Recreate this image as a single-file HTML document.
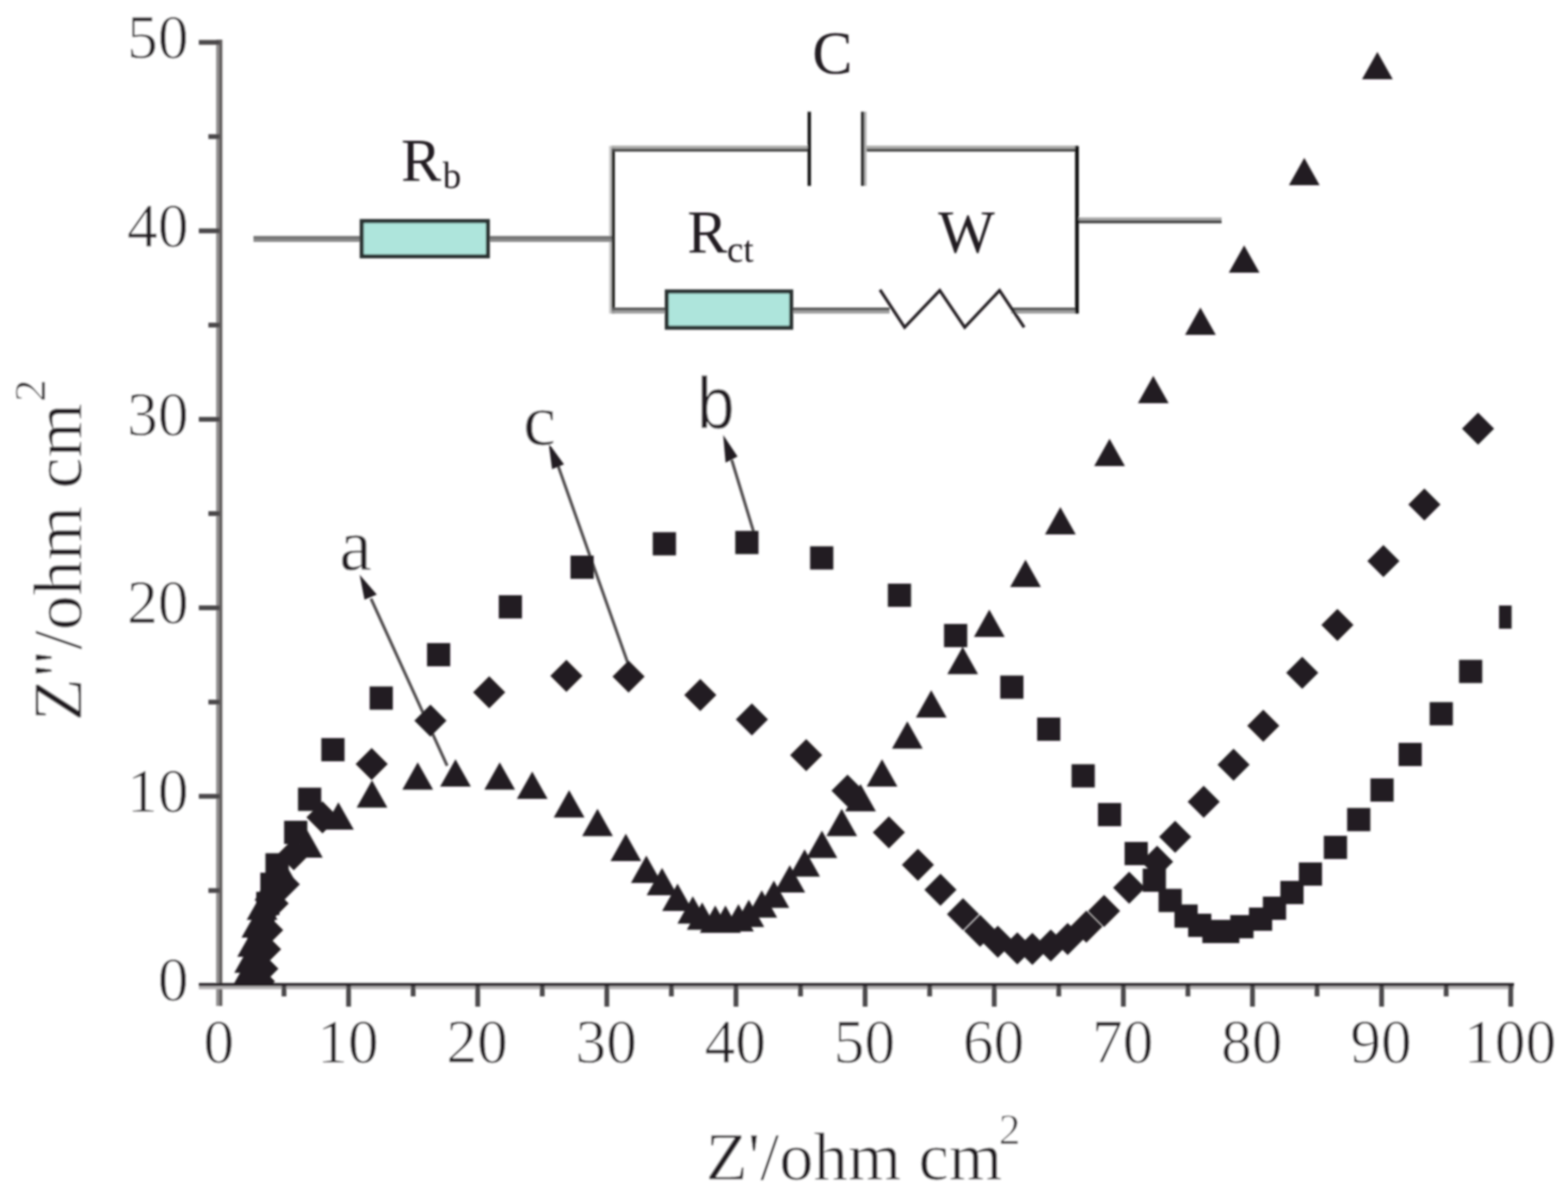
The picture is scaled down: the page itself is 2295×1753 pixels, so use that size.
<!DOCTYPE html>
<html lang="en">
<head>
<meta charset="utf-8">
<title>Nyquist plot</title>
<style>
html,body{margin:0;padding:0;background:#fff;overflow:hidden;}
svg{display:block;}
text{font-family:"Liberation Serif",serif;fill:#231f20;stroke:#fff;stroke-width:1px;stroke-linejoin:round;}
.sans{font-family:"Liberation Sans",sans-serif;}
.hv text{stroke:none;}
</style>
</head>
<body>
<svg width="2295" height="1753" viewBox="0 0 2295 1753">
<defs>
<clipPath id="plot"><rect x="0" y="0" width="2212.5" height="1441"/></clipPath>
<filter id="soft" x="-5%" y="-5%" width="110%" height="110%"><feGaussianBlur stdDeviation="1.4"/></filter>
</defs>
<rect width="2295" height="1753" fill="#fff"/>
<g filter="url(#soft)">

<g id="axes">
<rect x="316.4" y="58" width="4.5" height="1414" fill="#8e8b8c"/>
<rect x="320.9" y="58" width="4.5" height="1414" fill="#5e5b5c"/>
<rect x="291" y="1438.5" width="1925" height="4.5" fill="#231f20"/>
<rect x="291" y="1443" width="1925" height="4.5" fill="#b5b2b3"/>
<rect x="305" y="1299.6" width="16" height="7" fill="#4a4748"/>
<rect x="291" y="1161.7" width="30" height="7" fill="#4a4748"/>
<rect x="305" y="1023.8" width="16" height="7" fill="#4a4748"/>
<rect x="291" y="885.9" width="30" height="7" fill="#4a4748"/>
<rect x="305" y="748.0" width="16" height="7" fill="#4a4748"/>
<rect x="291" y="610.1" width="30" height="7" fill="#4a4748"/>
<rect x="305" y="472.2" width="16" height="7" fill="#4a4748"/>
<rect x="291" y="334.3" width="30" height="7" fill="#4a4748"/>
<rect x="305" y="196.4" width="16" height="7" fill="#4a4748"/>
<rect x="291" y="58.5" width="30" height="7" fill="#4a4748"/>
<rect x="412.2" y="1443" width="7" height="15" fill="#4a4748"/>
<rect x="506.7" y="1443" width="7" height="30" fill="#4a4748"/>
<rect x="601.2" y="1443" width="7" height="15" fill="#4a4748"/>
<rect x="695.7" y="1443" width="7" height="30" fill="#4a4748"/>
<rect x="790.2" y="1443" width="7" height="15" fill="#4a4748"/>
<rect x="884.7" y="1443" width="7" height="30" fill="#4a4748"/>
<rect x="979.2" y="1443" width="7" height="15" fill="#4a4748"/>
<rect x="1073.7" y="1443" width="7" height="30" fill="#4a4748"/>
<rect x="1168.2" y="1443" width="7" height="15" fill="#4a4748"/>
<rect x="1262.7" y="1443" width="7" height="30" fill="#4a4748"/>
<rect x="1357.2" y="1443" width="7" height="15" fill="#4a4748"/>
<rect x="1451.7" y="1443" width="7" height="30" fill="#4a4748"/>
<rect x="1546.2" y="1443" width="7" height="15" fill="#4a4748"/>
<rect x="1640.7" y="1443" width="7" height="30" fill="#4a4748"/>
<rect x="1735.2" y="1443" width="7" height="15" fill="#4a4748"/>
<rect x="1829.7" y="1443" width="7" height="30" fill="#4a4748"/>
<rect x="1924.2" y="1443" width="7" height="15" fill="#4a4748"/>
<rect x="2018.7" y="1443" width="7" height="30" fill="#4a4748"/>
<rect x="2113.2" y="1443" width="7" height="15" fill="#4a4748"/>
<rect x="2207.7" y="1443" width="7" height="30" fill="#4a4748"/>
</g>
<g id="ticklabels" font-size="90">
<text x="276" y="1464.0" text-anchor="end">0</text>
<text x="276" y="1188.2" text-anchor="end">10</text>
<text x="276" y="912.4" text-anchor="end">20</text>
<text x="276" y="636.6" text-anchor="end">30</text>
<text x="276" y="360.8" text-anchor="end">40</text>
<text x="276" y="85.0" text-anchor="end">50</text>
<text x="320.2" y="1554.5" text-anchor="middle">0</text>
<text x="509.2" y="1554.5" text-anchor="middle">10</text>
<text x="698.2" y="1554.5" text-anchor="middle">20</text>
<text x="887.2" y="1554.5" text-anchor="middle">30</text>
<text x="1076.2" y="1554.5" text-anchor="middle">40</text>
<text x="1265.2" y="1554.5" text-anchor="middle">50</text>
<text x="1454.2" y="1554.5" text-anchor="middle">60</text>
<text x="1643.2" y="1554.5" text-anchor="middle">70</text>
<text x="1832.2" y="1554.5" text-anchor="middle">80</text>
<text x="2021.2" y="1554.5" text-anchor="middle">90</text>
<text x="2210.2" y="1554.5" text-anchor="middle">100</text>
</g>
<text x="1033" y="1725.5" font-size="100.5">Z'/ohm cm</text>
<text x="1462" y="1673.5" font-size="63">2</text>
<g transform="translate(119 1055) rotate(-90)"><text x="0" y="0" font-size="102.3">Z"/ohm cm</text><text x="467" y="-53.5" font-size="66">2</text></g>
<g id="circuit" fill="none">
<rect x="891.5" y="213.5" width="4" height="245.3" fill="#c8c8c8"/>
<rect x="895" y="213.5" width="5" height="245.3" fill="#262624"/>
<rect x="371" y="345.4" width="156.0" height="4.5" fill="#6e6e6e"/>
<rect x="371" y="349.7" width="156.0" height="4.3" fill="#8a8a8a"/>
<rect x="716" y="345.4" width="179.5" height="4.5" fill="#6e6e6e"/>
<rect x="716" y="349.7" width="179.5" height="4.3" fill="#8a8a8a"/>
<rect x="529.5" y="323.5" width="184.5" height="51.5" fill="#aee5dc" stroke="#2b3331" stroke-width="6"/>
<rect x="895" y="213.1" width="289.0" height="4.6" fill="#adadab"/>
<rect x="895" y="217.5" width="289.0" height="4.4" fill="#4a4a48"/>
<rect x="1264" y="213.1" width="314.0" height="4.6" fill="#adadab"/>
<rect x="1264" y="217.5" width="314.0" height="4.4" fill="#4a4a48"/>
<rect x="895" y="450" width="79.0" height="4.6" fill="#5a5a5a"/>
<rect x="895" y="454.4" width="79.0" height="4.4" fill="#9e9e9e"/>
<rect x="1160" y="450" width="142.0" height="4.6" fill="#5a5a5a"/>
<rect x="1160" y="454.4" width="142.0" height="4.4" fill="#9e9e9e"/>
<rect x="1480" y="450" width="98.0" height="4.6" fill="#5a5a5a"/>
<rect x="1480" y="454.4" width="98.0" height="4.4" fill="#9e9e9e"/>
<rect x="1578" y="318.1" width="210.0" height="4.5" fill="#a8a8a8"/>
<rect x="1578" y="322.4" width="210.0" height="4.3" fill="#404040"/>
<rect x="1573.6" y="213.5" width="5.4" height="245.3" fill="#0d0d0b"/>
<rect x="1182" y="163.5" width="5" height="108.5" fill="#141414"/>
<rect x="1260.2" y="163.5" width="4.9" height="108.5" fill="#2a2a2a"/>
<rect x="1265" y="163.5" width="3.4" height="108.5" fill="#b4b4b4"/>
<rect x="976" y="426.5" width="182" height="53" fill="#aee5dc" stroke="#2b3331" stroke-width="6"/>
<polyline points="1288,424 1324,479 1375.5,425 1412,479 1463,425 1499,479" stroke="#231f20" stroke-width="4.4" stroke-linejoin="miter"/>
</g>
<g class="hv">
<text x="1189" y="107" font-size="88">C</text>
<text x="587" y="263.5" font-size="88">R</text>
<text x="648" y="275" font-size="54">b</text>
<text x="1006" y="368.5" font-size="88">R</text>
<text x="1064" y="383" font-size="54">ct</text>
<text x="1373" y="368.5" font-size="88">W</text>
</g>
<g id="arrows">
<line x1="543" y1="876" x2="654.5" y2="1120.5" stroke="#4f4c4d" stroke-width="4.3"/>
<polygon points="526.4,841 551.5,870 533.5,877.5" fill="#231f20"/>
<line x1="817" y1="682" x2="918.5" y2="969" stroke="#4f4c4d" stroke-width="4.3"/>
<polygon points="803,648.5 825.5,679.5 808,686.5" fill="#231f20"/>
<line x1="1071" y1="673" x2="1102.8" y2="777.4" stroke="#4f4c4d" stroke-width="4.3"/>
<polygon points="1058.5,636.5 1079.5,668 1062,677" fill="#231f20"/>
</g>
<text x="496.5" y="834" font-size="108">a</text>
<text x="765.5" y="650.5" font-size="109">c</text>
<text class="sans" transform="translate(1020 627) scale(0.93 1)" x="0" y="0" font-size="107" stroke="#fff" stroke-width="1.6">b</text>
<g id="markers" clip-path="url(#plot)" fill="#231f20">
<rect x="355.0" y="1408.0" width="34.0" height="34.0"/>
<rect x="359.0" y="1383.0" width="34.0" height="34.0"/>
<rect x="362.0" y="1361.0" width="34.0" height="34.0"/>
<rect x="368.0" y="1333.0" width="34.0" height="34.0"/>
<rect x="375.0" y="1305.0" width="34.0" height="34.0"/>
<rect x="381.0" y="1277.0" width="34.0" height="34.0"/>
<rect x="388.5" y="1248.5" width="34.0" height="34.0"/>
<rect x="415.8" y="1201.0" width="34.0" height="34.0"/>
<rect x="436.2" y="1152.6" width="34.0" height="34.0"/>
<rect x="470.3" y="1080.0" width="34.0" height="34.0"/>
<rect x="541.0" y="1004.5" width="34.0" height="34.0"/>
<rect x="625.0" y="941.0" width="34.0" height="34.0"/>
<rect x="730.0" y="871.0" width="34.0" height="34.0"/>
<rect x="835.0" y="813.0" width="34.0" height="34.0"/>
<rect x="955.4" y="778.7" width="34.0" height="34.0"/>
<rect x="1076.2" y="776.8" width="34.0" height="34.0"/>
<rect x="1185.7" y="799.4" width="34.0" height="34.0"/>
<rect x="1299.5" y="854.0" width="34.0" height="34.0"/>
<rect x="1381.7" y="913.0" width="34.0" height="34.0"/>
<rect x="1464.0" y="988.5" width="34.0" height="34.0"/>
<rect x="1518.0" y="1050.0" width="34.0" height="34.0"/>
<rect x="1568.4" y="1118.3" width="34.0" height="34.0"/>
<rect x="1607.0" y="1175.0" width="34.0" height="34.0"/>
<rect x="1646.0" y="1232.0" width="34.0" height="34.0"/>
<rect x="1672.5" y="1271.0" width="34.0" height="34.0"/>
<rect x="1695.7" y="1300.6" width="34.0" height="34.0"/>
<rect x="1719.0" y="1323.5" width="34.0" height="34.0"/>
<rect x="1739.0" y="1337.0" width="34.0" height="34.0"/>
<rect x="1759.8" y="1346.0" width="34.0" height="34.0"/>
<rect x="1780.0" y="1346.0" width="34.0" height="34.0"/>
<rect x="1800.7" y="1339.0" width="34.0" height="34.0"/>
<rect x="1828.0" y="1328.0" width="34.0" height="34.0"/>
<rect x="1848.4" y="1312.0" width="34.0" height="34.0"/>
<rect x="1874.0" y="1289.0" width="34.0" height="34.0"/>
<rect x="1901.0" y="1262.0" width="34.0" height="34.0"/>
<rect x="1937.6" y="1223.0" width="34.0" height="34.0"/>
<rect x="1971.7" y="1182.3" width="34.0" height="34.0"/>
<rect x="2005.8" y="1139.0" width="34.0" height="34.0"/>
<rect x="2047.0" y="1087.0" width="34.0" height="34.0"/>
<rect x="2092.5" y="1027.4" width="34.0" height="34.0"/>
<rect x="2135.5" y="965.5" width="34.0" height="34.0"/>
<rect x="2194.0" y="886.0" width="34.0" height="34.0"/>
<polygon points="379.0,1412.5 402.5,1436.0 379.0,1459.5 355.5,1436.0"/>
<polygon points="384.0,1394.1 407.5,1417.6 384.0,1441.1 360.5,1417.6"/>
<polygon points="388.0,1365.5 411.5,1389.0 388.0,1412.5 364.5,1389.0"/>
<polygon points="391.0,1337.5 414.5,1361.0 391.0,1384.5 367.5,1361.0"/>
<polygon points="399.0,1298.5 422.5,1322.0 399.0,1345.5 375.5,1322.0"/>
<polygon points="415.4,1270.5 438.9,1294.0 415.4,1317.5 391.9,1294.0"/>
<polygon points="430.0,1226.5 453.5,1250.0 430.0,1273.5 406.5,1250.0"/>
<polygon points="472.0,1172.5 495.5,1196.0 472.0,1219.5 448.5,1196.0"/>
<polygon points="544.0,1094.5 567.5,1118.0 544.0,1141.5 520.5,1118.0"/>
<polygon points="630.0,1031.0 653.5,1054.5 630.0,1078.0 606.5,1054.5"/>
<polygon points="716.0,989.5 739.5,1013.0 716.0,1036.5 692.5,1013.0"/>
<polygon points="829.0,965.5 852.5,989.0 829.0,1012.5 805.5,989.0"/>
<polygon points="920.0,966.5 943.5,990.0 920.0,1013.5 896.5,990.0"/>
<polygon points="1025.0,993.5 1048.5,1017.0 1025.0,1040.5 1001.5,1017.0"/>
<polygon points="1100.5,1029.2 1124.0,1052.7 1100.5,1076.2 1077.0,1052.7"/>
<polygon points="1180.0,1081.5 1203.5,1105.0 1180.0,1128.5 1156.5,1105.0"/>
<polygon points="1240.5,1133.5 1264.0,1157.0 1240.5,1180.5 1217.0,1157.0"/>
<polygon points="1301.0,1194.5 1324.5,1218.0 1301.0,1241.5 1277.5,1218.0"/>
<polygon points="1343.5,1242.0 1367.0,1265.5 1343.5,1289.0 1320.0,1265.5"/>
<polygon points="1376.5,1278.5 1400.0,1302.0 1376.5,1325.5 1353.0,1302.0"/>
<polygon points="1409.5,1314.3 1433.0,1337.8 1409.5,1361.3 1386.0,1337.8"/>
<polygon points="1434.5,1338.5 1458.0,1362.0 1434.5,1385.5 1411.0,1362.0"/>
<polygon points="1460.5,1354.5 1484.0,1378.0 1460.5,1401.5 1437.0,1378.0"/>
<polygon points="1489.0,1364.2 1512.5,1387.7 1489.0,1411.2 1465.5,1387.7"/>
<polygon points="1511.0,1365.0 1534.5,1388.5 1511.0,1412.0 1487.5,1388.5"/>
<polygon points="1538.0,1360.1 1561.5,1383.6 1538.0,1407.1 1514.5,1383.6"/>
<polygon points="1562.7,1350.5 1586.2,1374.0 1562.7,1397.5 1539.2,1374.0"/>
<polygon points="1590.0,1332.5 1613.5,1356.0 1590.0,1379.5 1566.5,1356.0"/>
<polygon points="1616.0,1309.5 1639.5,1333.0 1616.0,1356.5 1592.5,1333.0"/>
<polygon points="1652.7,1275.5 1676.2,1299.0 1652.7,1322.5 1629.2,1299.0"/>
<polygon points="1693.6,1237.5 1717.1,1261.0 1693.6,1284.5 1670.1,1261.0"/>
<polygon points="1720.0,1201.1 1743.5,1224.6 1720.0,1248.1 1696.5,1224.6"/>
<polygon points="1761.8,1149.7 1785.3,1173.2 1761.8,1196.7 1738.3,1173.2"/>
<polygon points="1805.5,1095.5 1829.0,1119.0 1805.5,1142.5 1782.0,1119.0"/>
<polygon points="1849.0,1038.5 1872.5,1062.0 1849.0,1085.5 1825.5,1062.0"/>
<polygon points="1906.0,960.9 1929.5,984.4 1906.0,1007.9 1882.5,984.4"/>
<polygon points="1957.5,891.0 1981.0,914.5 1957.5,938.0 1934.0,914.5"/>
<polygon points="2024.8,797.5 2048.3,821.0 2024.8,844.5 2001.3,821.0"/>
<polygon points="2084.8,714.7 2108.3,738.2 2084.8,761.7 2061.3,738.2"/>
<polygon points="2163.4,603.8 2186.9,627.3 2163.4,650.8 2139.9,627.3"/>
<polygon points="361.7,1405.0 384.2,1445.0 339.2,1445.0"/>
<polygon points="365.4,1383.6 387.9,1423.6 342.9,1423.6"/>
<polygon points="369.8,1360.0 392.3,1400.0 347.3,1400.0"/>
<polygon points="376.0,1332.0 398.5,1372.0 353.5,1372.0"/>
<polygon points="383.6,1306.0 406.1,1346.0 361.1,1346.0"/>
<polygon points="395.0,1278.0 417.5,1318.0 372.5,1318.0"/>
<polygon points="410.0,1250.0 432.5,1290.0 387.5,1290.0"/>
<polygon points="449.8,1215.0 472.3,1255.0 427.3,1255.0"/>
<polygon points="495.3,1174.0 517.8,1214.0 472.8,1214.0"/>
<polygon points="544.5,1141.8 567.0,1181.8 522.0,1181.8"/>
<polygon points="611.4,1115.4 633.9,1155.4 588.9,1155.4"/>
<polygon points="666.7,1111.0 689.2,1151.0 644.2,1151.0"/>
<polygon points="731.4,1115.4 753.9,1155.4 708.9,1155.4"/>
<polygon points="779.0,1129.0 801.5,1169.0 756.5,1169.0"/>
<polygon points="833.0,1156.3 855.5,1196.3 810.5,1196.3"/>
<polygon points="874.5,1183.5 897.0,1223.5 852.0,1223.5"/>
<polygon points="916.0,1220.0 938.5,1260.0 893.5,1260.0"/>
<polygon points="946.0,1252.0 968.5,1292.0 923.5,1292.0"/>
<polygon points="969.0,1270.0 991.5,1310.0 946.5,1310.0"/>
<polygon points="991.7,1293.0 1014.2,1333.0 969.2,1333.0"/>
<polygon points="1014.0,1311.5 1036.5,1351.5 991.5,1351.5"/>
<polygon points="1027.7,1320.5 1050.2,1360.5 1005.2,1360.5"/>
<polygon points="1046.8,1325.0 1069.3,1365.0 1024.3,1365.0"/>
<polygon points="1061.8,1325.0 1084.3,1365.0 1039.3,1365.0"/>
<polygon points="1080.9,1323.0 1103.4,1363.0 1058.4,1363.0"/>
<polygon points="1096.0,1316.4 1118.5,1356.4 1073.5,1356.4"/>
<polygon points="1115.0,1302.7 1137.5,1342.7 1092.5,1342.7"/>
<polygon points="1132.7,1288.5 1155.2,1328.5 1110.2,1328.5"/>
<polygon points="1156.0,1266.0 1178.5,1306.0 1133.5,1306.0"/>
<polygon points="1177.7,1242.7 1200.2,1282.7 1155.2,1282.7"/>
<polygon points="1203.0,1215.5 1225.5,1255.5 1180.5,1255.5"/>
<polygon points="1232.0,1183.5 1254.5,1223.5 1209.5,1223.5"/>
<polygon points="1259.5,1147.3 1282.0,1187.3 1237.0,1187.3"/>
<polygon points="1291.0,1111.0 1313.5,1151.0 1268.5,1151.0"/>
<polygon points="1328.0,1055.6 1350.5,1095.6 1305.5,1095.6"/>
<polygon points="1363.0,1010.0 1385.5,1050.0 1340.5,1050.0"/>
<polygon points="1409.0,946.5 1431.5,986.5 1386.5,986.5"/>
<polygon points="1448.0,892.0 1470.5,932.0 1425.5,932.0"/>
<polygon points="1501.0,819.0 1523.5,859.0 1478.5,859.0"/>
<polygon points="1552.0,742.0 1574.5,782.0 1529.5,782.0"/>
<polygon points="1624.0,642.0 1646.5,682.0 1601.5,682.0"/>
<polygon points="1688.0,550.0 1710.5,590.0 1665.5,590.0"/>
<polygon points="1757.0,450.0 1779.5,490.0 1734.5,490.0"/>
<polygon points="1821.0,359.0 1843.5,399.0 1798.5,399.0"/>
<polygon points="1909.0,231.0 1931.5,271.0 1886.5,271.0"/>
<polygon points="2016.0,76.0 2038.5,116.0 1993.5,116.0"/>
</g>
</g>
</svg>
</body>
</html>
